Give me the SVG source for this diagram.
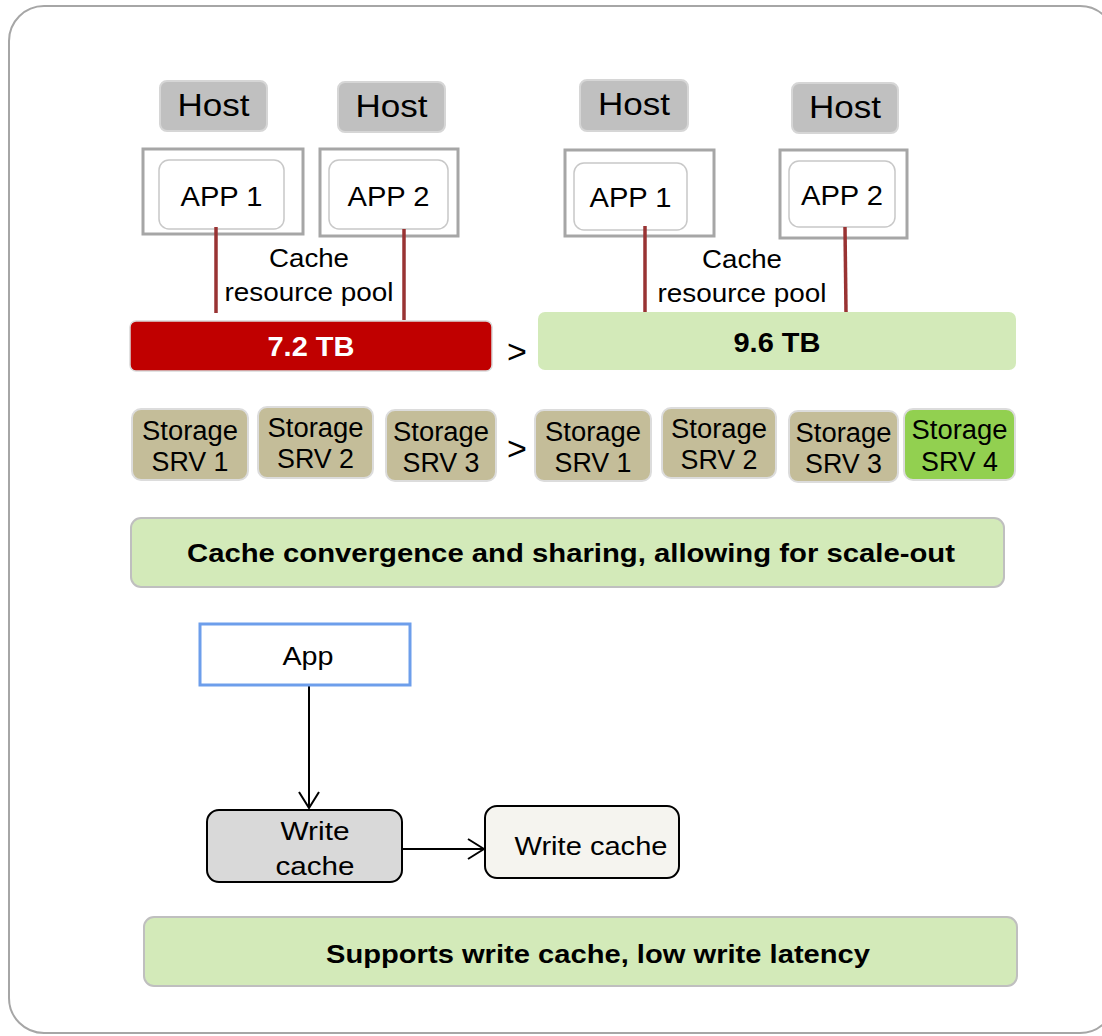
<svg xmlns="http://www.w3.org/2000/svg" width="1102" height="1036" viewBox="0 0 1102 1036">
<style>
text{font-family:"Liberation Sans",Arial,sans-serif;fill:#000;text-anchor:middle}
.host{fill:#c0c0c0;stroke:#d6d6d6;stroke-width:2}
.hostt{font-size:32px}
.outer{fill:#fff;stroke:#a6a6a6;stroke-width:3}
.inner{fill:#fff;stroke:#c8c8c8;stroke-width:1.5}
.appt{font-size:28px}
.link{stroke:#993333;stroke-width:3.5;fill:none}
.lbl{font-size:26px}
.bar{font-size:28px;font-weight:bold}
.srv{fill:#c4bd99;stroke:#dcdcdc;stroke-width:2}
.srv4{fill:#92d050;stroke:#dcdcdc;stroke-width:2}
.srvt{font-size:27px}
.gt{font-size:34px}
.banner{fill:#d3eab9;stroke:#bfbfbf;stroke-width:2}
.bt{font-size:26px;font-weight:bold}
.conn{stroke:#000;stroke-width:2;fill:none}
</style>
<defs>
<marker id="arr" viewBox="0 0 18 22" refX="17" refY="11" markerWidth="18" markerHeight="22" markerUnits="userSpaceOnUse" orient="auto">
<path d="M1,1 L17,11 L1,21" fill="none" stroke="#000" stroke-width="2"/>
</marker>
</defs>
<rect x="9" y="6" width="1106" height="1027" rx="35" fill="#fff" stroke="#a6a6a6" stroke-width="2"/>

<g id="host1"><rect class="host" x="160" y="81" width="107" height="50" rx="7"/><text class="hostt" x="213.5" y="116" textLength="72" lengthAdjust="spacingAndGlyphs">Host</text></g>
<g id="host2"><rect class="host" x="338" y="82" width="107" height="50" rx="7"/><text class="hostt" x="391.5" y="117" textLength="72" lengthAdjust="spacingAndGlyphs">Host</text></g>
<g id="host3"><rect class="host" x="580" y="80" width="108" height="51" rx="7"/><text class="hostt" x="634" y="115" textLength="72" lengthAdjust="spacingAndGlyphs">Host</text></g>
<g id="host4"><rect class="host" x="792" y="83" width="106" height="50" rx="7"/><text class="hostt" x="845" y="118" textLength="72" lengthAdjust="spacingAndGlyphs">Host</text></g>

<g id="appbox1"><rect class="outer" x="143" y="149" width="160" height="85"/><rect class="inner" x="159" y="160" width="125" height="69" rx="10"/><text class="appt" x="221.5" y="206" textLength="82" lengthAdjust="spacingAndGlyphs">APP 1</text></g>
<g id="appbox2"><rect class="outer" x="320" y="149" width="138" height="87"/><rect class="inner" x="329" y="160" width="119" height="69" rx="10"/><text class="appt" x="388.5" y="206" textLength="82" lengthAdjust="spacingAndGlyphs">APP 2</text></g>
<g id="appbox3"><rect class="outer" x="565" y="150" width="149" height="86"/><rect class="inner" x="574" y="163" width="113" height="67" rx="10"/><text class="appt" x="630.5" y="207" textLength="82" lengthAdjust="spacingAndGlyphs">APP 1</text></g>
<g id="appbox4"><rect class="outer" x="780" y="150" width="127" height="88"/><rect class="inner" x="789" y="161" width="106" height="66" rx="10"/><text class="appt" x="842" y="205" textLength="82" lengthAdjust="spacingAndGlyphs">APP 2</text></g>

<g id="connectors">
<line class="link" x1="216" y1="227" x2="216" y2="313"/>
<line class="link" x1="404" y1="229" x2="404" y2="320"/>
<line class="link" x1="645" y1="226" x2="645" y2="312"/>
<line class="link" x1="845" y1="227" x2="846" y2="312"/>
<line class="conn" x1="309" y1="686" x2="309" y2="808" marker-end="url(#arr)"/>
<line class="conn" x1="402" y1="849" x2="484" y2="849" marker-end="url(#arr)"/>
</g>

<g id="pool-label-1"><text class="lbl" x="309" y="267" textLength="80" lengthAdjust="spacingAndGlyphs">Cache</text><text class="lbl" x="309" y="301" textLength="169" lengthAdjust="spacingAndGlyphs">resource pool</text></g>
<g id="pool-label-2"><text class="lbl" x="742" y="268" textLength="80" lengthAdjust="spacingAndGlyphs">Cache</text><text class="lbl" x="742" y="302" textLength="169" lengthAdjust="spacingAndGlyphs">resource pool</text></g>

<g id="pool1"><rect x="130" y="321" width="362" height="50" rx="6" fill="#c00000" stroke="#d9d9d9" stroke-width="1.5"/><text class="bar" x="311" y="356" style="fill:#fff" textLength="87" lengthAdjust="spacingAndGlyphs">7.2 TB</text></g>
<g id="gt1"><text class="gt" x="517" y="363">&gt;</text></g>
<g id="pool2"><rect x="538" y="312" width="478" height="58" rx="7" fill="#d3eab9"/><text class="bar" x="777" y="352" textLength="87" lengthAdjust="spacingAndGlyphs">9.6 TB</text></g>

<g id="srv-a1"><rect class="srv" x="132" y="409" width="116" height="71" rx="9"/><text class="srvt" x="190" y="440" textLength="96" lengthAdjust="spacingAndGlyphs">Storage</text><text class="srvt" x="190" y="471" textLength="77" lengthAdjust="spacingAndGlyphs">SRV 1</text></g>
<g id="srv-a2"><rect class="srv" x="258" y="407" width="115" height="71" rx="9"/><text class="srvt" x="315.5" y="437" textLength="96" lengthAdjust="spacingAndGlyphs">Storage</text><text class="srvt" x="315.5" y="468" textLength="77" lengthAdjust="spacingAndGlyphs">SRV 2</text></g>
<g id="srv-a3"><rect class="srv" x="386" y="410" width="110" height="71" rx="9"/><text class="srvt" x="441" y="441" textLength="96" lengthAdjust="spacingAndGlyphs">Storage</text><text class="srvt" x="441" y="472" textLength="77" lengthAdjust="spacingAndGlyphs">SRV 3</text></g>
<g id="gt2"><text class="gt" x="517" y="460">&gt;</text></g>
<g id="srv-b1"><rect class="srv" x="535" y="410" width="116" height="71" rx="9"/><text class="srvt" x="593" y="441" textLength="96" lengthAdjust="spacingAndGlyphs">Storage</text><text class="srvt" x="593" y="472" textLength="77" lengthAdjust="spacingAndGlyphs">SRV 1</text></g>
<g id="srv-b2"><rect class="srv" x="662" y="408" width="114" height="70" rx="9"/><text class="srvt" x="719" y="438" textLength="96" lengthAdjust="spacingAndGlyphs">Storage</text><text class="srvt" x="719" y="469" textLength="77" lengthAdjust="spacingAndGlyphs">SRV 2</text></g>
<g id="srv-b3"><rect class="srv" x="789" y="411" width="109" height="71" rx="9"/><text class="srvt" x="843.5" y="442" textLength="96" lengthAdjust="spacingAndGlyphs">Storage</text><text class="srvt" x="843.5" y="473" textLength="77" lengthAdjust="spacingAndGlyphs">SRV 3</text></g>
<g id="srv-b4"><rect class="srv4" x="904" y="409" width="111" height="71" rx="9"/><text class="srvt" x="959.5" y="439" textLength="96" lengthAdjust="spacingAndGlyphs">Storage</text><text class="srvt" x="959.5" y="471" textLength="77" lengthAdjust="spacingAndGlyphs">SRV 4</text></g>

<g id="banner1"><rect class="banner" x="131" y="518" width="873" height="69" rx="10"/><text class="bt" x="571" y="562" textLength="768" lengthAdjust="spacingAndGlyphs">Cache convergence and sharing, allowing for scale-out</text></g>

<g id="app"><rect x="200" y="624" width="210" height="61" fill="#fff" stroke="#6d9eeb" stroke-width="3"/><text class="lbl" x="308" y="665" textLength="51" lengthAdjust="spacingAndGlyphs">App</text></g>
<g id="writecache1"><rect x="207" y="810" width="195" height="72" rx="12" fill="#d9d9d9" stroke="#000" stroke-width="2"/><text class="lbl" x="315" y="840" textLength="69" lengthAdjust="spacingAndGlyphs">Write</text><text class="lbl" x="315" y="875" textLength="79" lengthAdjust="spacingAndGlyphs">cache</text></g>
<g id="writecache2"><rect x="485" y="806" width="194" height="72" rx="12" fill="#f5f4ef" stroke="#000" stroke-width="2"/><text class="lbl" x="591" y="855" textLength="153" lengthAdjust="spacingAndGlyphs">Write cache</text></g>

<g id="banner2"><rect class="banner" x="144" y="917" width="873" height="69" rx="10"/><text class="bt" x="598" y="963" textLength="544" lengthAdjust="spacingAndGlyphs">Supports write cache, low write latency</text></g>
</svg>
